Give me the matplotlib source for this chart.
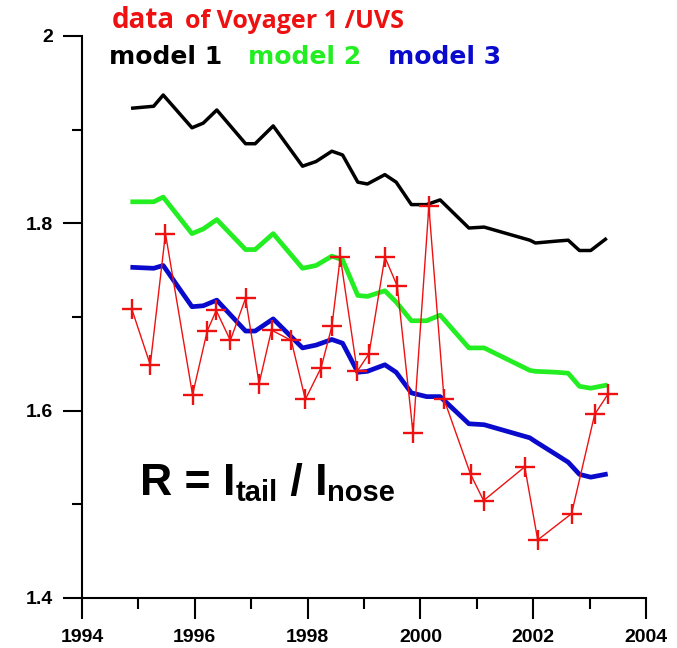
import matplotlib
matplotlib.use("Agg")
import matplotlib.pyplot as plt
from matplotlib.ticker import MultipleLocator

W, H = 677, 648

# Voyager 1 / UVS tail-to-nose intensity ratio
data_year = [1994.88, 1995.21, 1995.48, 1995.96, 1996.22, 1996.38, 1996.63, 1996.90,
             1997.14, 1997.36, 1997.71, 1997.96, 1998.24, 1998.43, 1998.58, 1998.88,
             1999.09, 1999.37, 1999.59, 1999.87, 2000.15, 2000.42, 2000.89, 2001.12,
             2001.85, 2002.08, 2002.68, 2003.09, 2003.33]
data_r = [1.709, 1.649, 1.789, 1.617, 1.685, 1.707, 1.675, 1.720,
          1.629, 1.686, 1.675, 1.612, 1.646, 1.690, 1.764, 1.642,
          1.661, 1.764, 1.733, 1.576, 1.818, 1.612, 1.532, 1.504,
          1.540, 1.462, 1.490, 1.596, 1.618]

# model curves
model_year = [1994.90, 1995.27, 1995.44, 1995.95, 1996.15, 1996.39, 1996.90, 1997.07,
              1997.39, 1997.91, 1998.15, 1998.43, 1998.62, 1998.89, 1999.06, 1999.37,
              1999.57, 1999.84, 2000.11, 2000.35, 2000.86, 2001.13, 2001.94, 2002.04,
              2002.41, 2002.62, 2002.82, 2003.02, 2003.28]
model1 = [1.923, 1.925, 1.937, 1.902, 1.907, 1.921, 1.885, 1.885,
          1.904, 1.861, 1.866, 1.877, 1.873, 1.844, 1.842, 1.852,
          1.844, 1.820, 1.820, 1.825, 1.795, 1.796, 1.782, 1.779,
          1.781, 1.782, 1.771, 1.771, 1.783]
model2 = [1.823, 1.823, 1.828, 1.789, 1.794, 1.804, 1.772, 1.772,
          1.789, 1.752, 1.755, 1.765, 1.761, 1.723, 1.722, 1.728,
          1.716, 1.696, 1.696, 1.702, 1.667, 1.667, 1.643, 1.642,
          1.641, 1.640, 1.626, 1.624, 1.627]
model3 = [1.753, 1.752, 1.755, 1.711, 1.712, 1.718, 1.685, 1.685,
          1.698, 1.667, 1.670, 1.676, 1.672, 1.641, 1.642, 1.649,
          1.641, 1.619, 1.615, 1.615, 1.586, 1.585, 1.571, 1.567,
          1.553, 1.545, 1.532, 1.529, 1.532]

x_ticks = [1994, 1996, 1998, 2000, 2002, 2004]
y_ticks = [1.4, 1.6, 1.8, 2.0]
y_labels = ["1.4", "1.6", "1.8", "2"]

RED = "#ee1111"
GREEN = "#22ee22"
BLUE = "#0a0acc"

plt.rcParams["font.family"] = "Liberation Sans"

fig = plt.figure(figsize=(W / 100, H / 100), dpi=100)
ax = fig.add_axes([82 / W, 50 / H, 564 / W, 562 / H])

ax.plot(model_year, model1, color="black", lw=2.5)
ax.plot(model_year, model2, color=GREEN, lw=3.4)
ax.plot(model_year, model3, color=BLUE, lw=3.4)
ax.plot(data_year, data_r, color=RED, lw=1.0, marker="+", ms=15, mew=1.7)

ax.set_xlim(1994, 2004)
ax.set_ylim(1.4, 2.0)
for side in ("top", "right"):
    ax.spines[side].set_visible(False)
for side in ("left", "bottom"):
    ax.spines[side].set_linewidth(1.5)

ax.set_xticks(x_ticks)
ax.set_xticklabels([str(y) for y in x_ticks], fontsize=14, fontweight="bold")
ax.xaxis.set_minor_locator(MultipleLocator(1))
ax.set_yticks(y_ticks)
ax.set_yticklabels(y_labels, fontsize=14, fontweight="bold")
ax.yaxis.set_minor_locator(MultipleLocator(0.1))
ax.tick_params(axis="x", which="major", length=15, width=1.5, pad=7)
ax.tick_params(axis="x", which="minor", length=8, width=1.5)
ax.tick_params(axis="y", which="major", length=14, width=1.5, pad=7)
ax.tick_params(axis="y", which="minor", length=7, width=1.5)

# header lines
fig.text(112 / W, 1 - 28 / H, "data", color=RED, family="Open Sans",
         weight="bold", size=20, va="baseline")
fig.text(185 / W, 1 - 28 / H, "of Voyager 1 /UVS", color=RED, family="Open Sans",
         weight="bold", size=18, va="baseline")
model_font = dict(family="DejaVu Sans", weight="bold", size=18, va="baseline")
fig.text(109 / W, 1 - 64 / H, "model 1", color="black", **model_font)
fig.text(248 / W, 1 - 64 / H, "model 2", color=GREEN, **model_font)
fig.text(388 / W, 1 - 64 / H, "model 3", color=BLUE, **model_font)

# R = I_tail / I_nose
big = dict(weight="bold", size=32, va="baseline")
small = dict(weight="bold", size=21, va="baseline")
base = H - 495
sub = H - 501
t1 = fig.text(140 / W, base / H, "R = I", **big)
t2 = ax.annotate("tail", xy=(1, sub), xycoords=(t1, "figure pixels"),
                 annotation_clip=False, **small)
t3 = ax.annotate(" / I", xy=(1, base), xycoords=(t2, "figure pixels"),
                 annotation_clip=False, **big)
ax.annotate("nose", xy=(1, sub), xycoords=(t3, "figure pixels"),
            annotation_clip=False, **small)

fig.savefig("out.png", dpi=100)
